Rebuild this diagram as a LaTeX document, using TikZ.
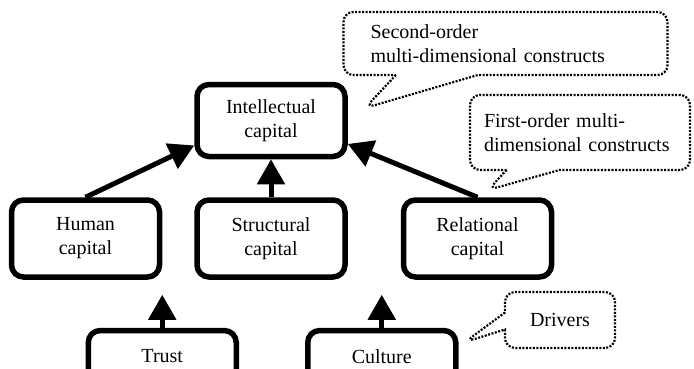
\documentclass[tikz,border=0pt]{standalone}
\usepackage{fontspec}
\setmainfont{Liberation Serif}
\usetikzlibrary{arrows.meta,positioning,shapes.callouts}

\begin{document}
\begin{tikzpicture}[x=1pt,y=1pt,
  capbox/.style={draw,line width=5.5pt,rounded corners=12pt,minimum width=148pt,minimum height=77pt,align=center,font=\fontsize{20}{24}\selectfont},
  drvbox/.style={capbox,minimum height=52pt},
  note/.style={draw,rectangle callout,line width=2.2pt,dash pattern=on 2pt off 1.5pt,rounded corners=10pt,align=left,font=\fontsize{20}{24}\selectfont},
  >={Triangle[length=25pt,width=27pt]},node distance=32pt]
  \useasboundingbox (0,0) rectangle (694,368);
  \coordinate (secTip) at (365,260);
  \coordinate (firTip) at (488,178);
  \coordinate (drvTip) at (465,26);

  \node[capbox] (struct) at (271,129.5) {Structural\\capital};
  \node[capbox,left=of struct] (human) {Human\\capital};
  \node[capbox,right=53pt of struct] (relat) {Relational\\capital};
  \node[capbox,minimum height=72pt,above=38pt of struct] (intel) {Intellectual\\capital};
  \node[drvbox,below=48pt of human.south east] (trust) {Trust};
  \node[drvbox,right=66pt of trust] (culture) {Culture};

  \node[note,text width=270pt,inner xsep=27pt,minimum height=63pt,callout pointer width=82pt,callout absolute pointer={(secTip)}] (second) at (505.5,324.5) {Second-order\\multi-dimensional constructs};
  \node[note,text width=192pt,inner xsep=14pt,minimum height=75pt,callout pointer width=53pt,callout absolute pointer={(firTip)}] (first) at (580,235.5) {First-order multi-\\dimensional constructs};
  \node[note,align=center,minimum width=110pt,minimum height=56pt,callout pointer width=17pt,callout absolute pointer={(drvTip)}] (drivers) at (560,48) {Drivers};

  \path (trust.north) ++(0,33pt) coordinate (trustTip);
  \path (culture.north) ++(0,33pt) coordinate (cultTip);

  \draw[->,line width=5pt] (human.north) -- (intel.198);
  \draw[->,line width=5pt] (struct.north) -- (intel.south);
  \draw[->,line width=5pt] (relat.north) -- (intel.-17);
  \draw[->,line width=5pt] (trust.north) -- (trustTip);
  \draw[->,line width=5pt] (culture.north) -- (cultTip);
\end{tikzpicture}
\end{document}
